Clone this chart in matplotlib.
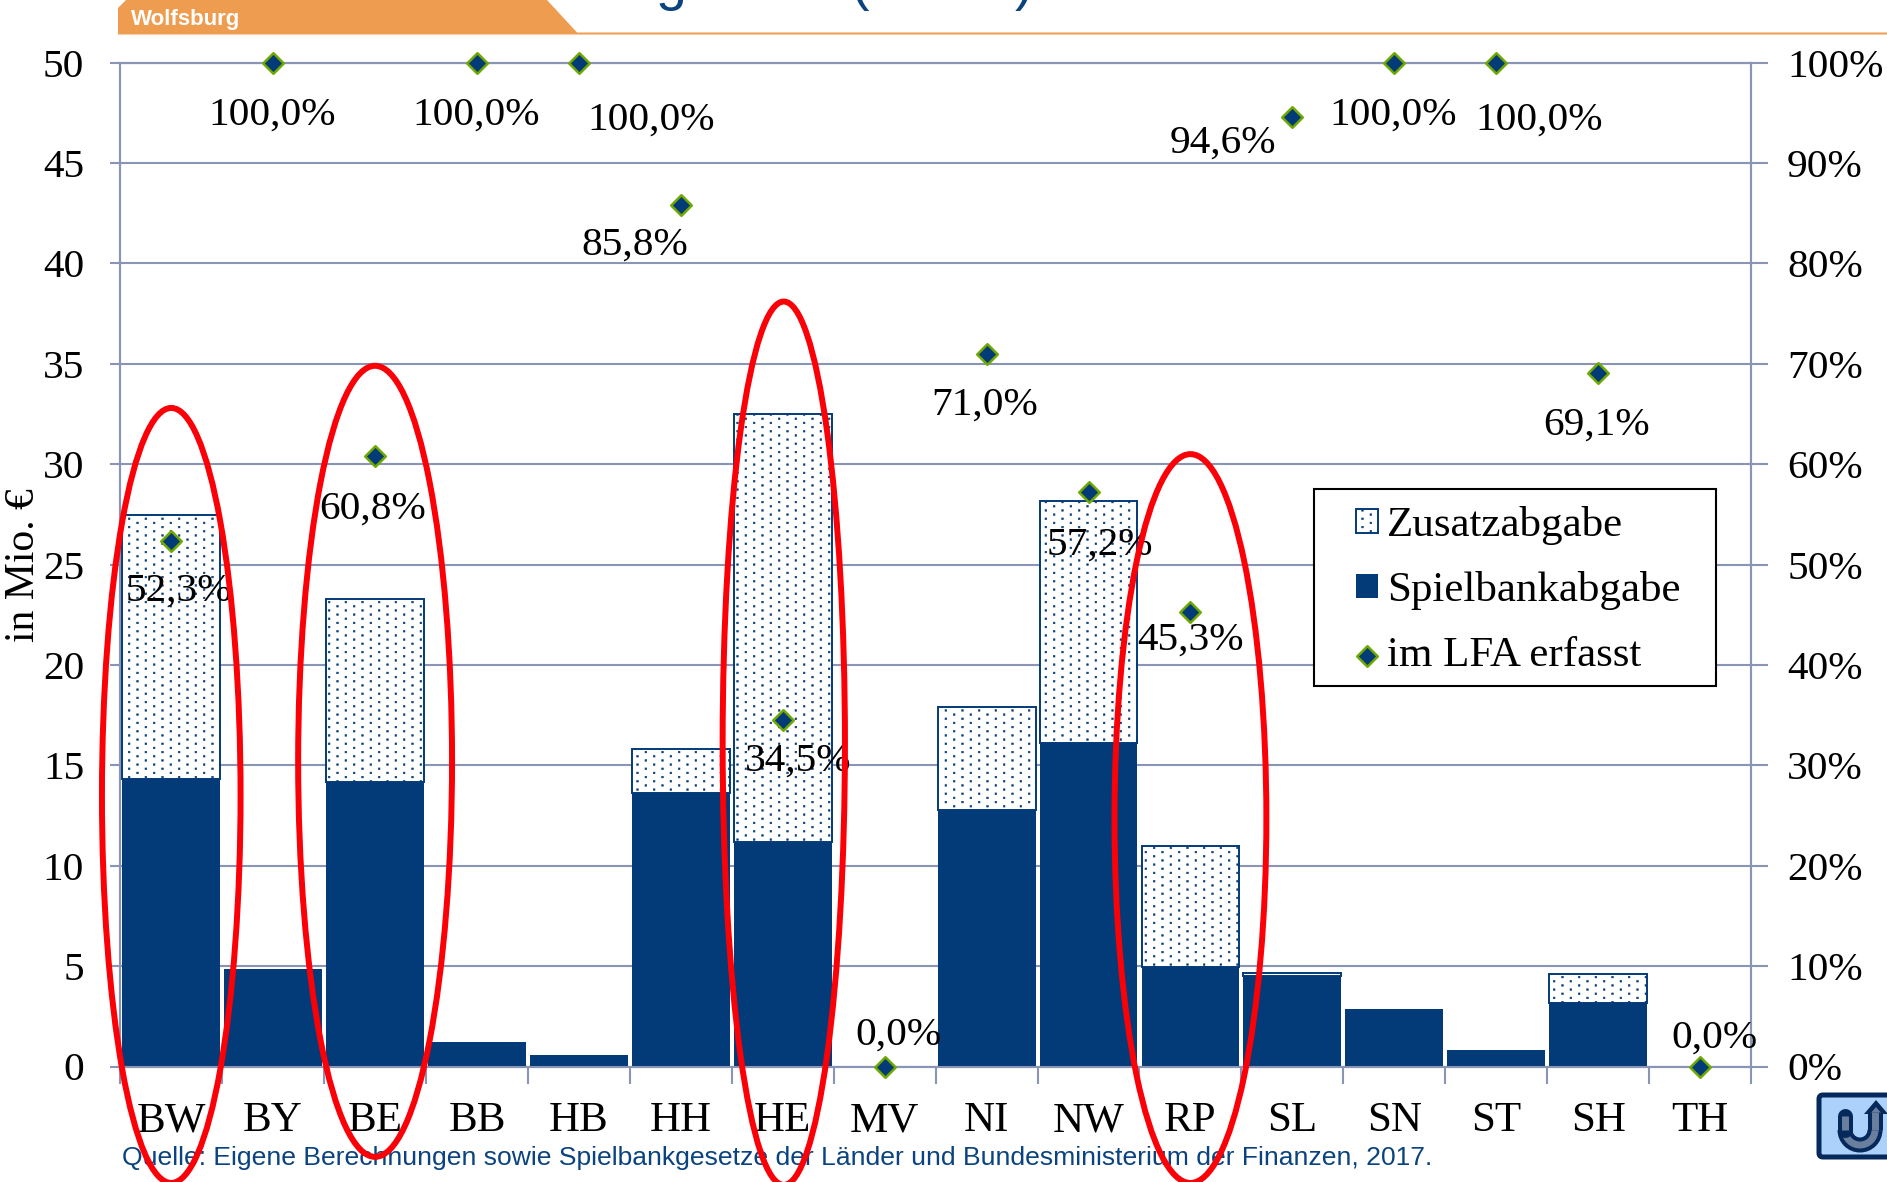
import numpy as np
import matplotlib
matplotlib.use('Agg')
import matplotlib.pyplot as plt
import matplotlib.hatch as mhatch
from matplotlib.path import Path
from matplotlib.patches import Arc, Ellipse, FancyBboxPatch, Polygon, Rectangle

# Data
laender = ['BW', 'BY', 'BE', 'BB', 'HB', 'HH', 'HE', 'MV', 'NI', 'NW', 'RP', 'SL', 'SN', 'ST', 'SH', 'TH']
spielbank = [14.33, 4.86, 14.15, 1.2, 0.55, 13.6, 11.2, 0, 12.77, 16.13, 4.98, 4.5, 2.88, 0.8, 3.18, 0]
zusatz = [13.13, 0, 9.11, 0, 0, 2.23, 21.3, 0, 5.16, 12.05, 5.99, 0.18, 0, 0, 1.44, 0]
lfa = [52.3, 100, 60.8, 100, 100, 85.8, 34.5, 0, 71.0, 57.2, 45.3, 94.6, 100, 100, 69.1, 0]
lfa_labels = ['52,3%', '100,0%', '60,8%', '100,0%', '100,0%', '85,8%', '34,5%', '0,0%',
              '71,0%', '57,2%', '45,3%', '94,6%', '100,0%', '100,0%', '69,1%', '0,0%']
# label offset from the marker, pixels
label_dx = [8, -1, -2, -1, 72, -46, 15, 14, -2, 11, 0, -69, -1, 43, -2, 14]
label_dy = [-50, -53, -53, -53, -58, -40, -41, 31, -51, -53, -28, -26, -53, -58, -52, 28]
# red marks: centre x, centre y, width, height
ringe = [(0, 13.5, 1.36, 38.6), (2, 15.2, 1.51, 39.4), (6.01, 16.1, 1.2, 44.0), (10, 12.35, 1.49, 36.3)]

navy = '#033a78'
grid_col = '#8a94b4'
W, H = 1887, 1182


class SparseDots(mhatch.HatchPatternBase):
    # small square dots: 24 rows per tile, every other row shifted by half a column
    filled = True
    rows = 24
    cols = 6
    half = 0.008

    def __init__(self, hatch, density):
        self.num_shapes = self.rows * self.cols if '.' in (hatch or '') else 0
        self.num_vertices = self.num_shapes * 5

    def set_vertices_and_codes(self, vertices, codes):
        h = self.half
        square = np.array([[-h, -h], [h, -h], [h, h], [-h, h], [-h, -h]])
        cursor = 0
        for r in range(self.rows):
            for c in range(self.cols):
                shift = 0.25 if r % 2 == 0 else 0.75
                centre = [(c + shift) / self.cols, (r + 0.5) / self.rows]
                vertices[cursor:cursor + 5] = square + centre
                codes[cursor:cursor + 5] = [Path.MOVETO, Path.LINETO, Path.LINETO, Path.LINETO, Path.CLOSEPOLY]
                cursor += 5


mhatch._hatch_types[mhatch._hatch_types.index(mhatch.SmallFilledCircles)] = SparseDots

plt.rcParams['font.family'] = ['Liberation Serif']
plt.rcParams['hatch.linewidth'] = 0.4
plt.rcParams['hatch.color'] = navy

fig = plt.figure(figsize=(W / 100, H / 100), dpi=100)
bg = fig.add_axes([0, 0, 1, 1], zorder=-1)
ax = fig.add_axes([120.3 / W, 1 - 1066.5 / H, (1751 - 120.3) / W, (1066.5 - 62.6) / H])
ax2 = ax.twinx()

x = list(range(len(laender)))
ax.bar(x, spielbank, width=0.96, color=navy, label='Spielbankabgabe', zorder=3)
ax.bar(x, zusatz, width=0.96, bottom=spielbank, facecolor='white', edgecolor=navy,
       linewidth=[1.4 if v > 0 else 0 for v in zusatz], hatch='.', label='Zusatzabgabe', zorder=3)

ax.set_xlim(-0.5, 15.5)
ax.set_ylim(0, 50)
ax.set_yticks(range(0, 51, 5))
ax.set_xticks([i - 0.5 for i in range(17)], minor=False)
ax.set_xticklabels([])
ax.set_xticks(x, minor=True)
ax.set_xticklabels(laender, minor=True)
ax.grid(True, axis='y', color=grid_col, linewidth=1.5, zorder=0)
ax.set_axisbelow(True)
ax.set_ylabel('in Mio. €', fontsize=30)
ax.yaxis.set_label_coords(-0.0475, 0.499)

ax.tick_params(axis='y', which='major', labelsize=29.7, length=7, width=1.5, color=grid_col, pad=19)
ax.tick_params(axis='x', which='major', length=12, width=1.5, color=grid_col)
ax.tick_params(axis='x', which='minor', labelsize=31, length=0, pad=46.5)
for t in ax.get_xminorticklabels():
    t.set_va('baseline')

ax2.set_ylim(0, 100)
ax2.set_yticks(range(0, 101, 10))
ax2.set_yticklabels([f'{v}%' for v in range(0, 101, 10)])
ax2.tick_params(axis='y', labelsize=29.7, length=12, width=1.5, color=grid_col, pad=14)
for a in (ax, ax2):
    for s in a.spines.values():
        s.set_color(grid_col)
        s.set_linewidth(1.5)

ax2.scatter(x, lfa, marker='D', s=110, c=navy, edgecolors='#6fa800', linewidths=1.8, zorder=5,
            clip_on=False, label='im LFA erfasst')
for i in x:
    ax2.annotate(lfa_labels[i], (x[i], lfa[i]), xytext=(label_dx[i], label_dy[i]),
                 textcoords='offset pixels', ha='center', va='center', fontsize=29.7,
                 color='black', zorder=6, annotation_clip=False)

for cx, cy, w, h in ringe:
    ax2.add_patch(Ellipse((cx, cy), w, h, transform=ax.transData, fill=False, edgecolor='#fb0007',
                          linewidth=4.3, zorder=7, clip_on=False))

# legend frame is wider than the legend's own padding allows
ax2.add_patch(Rectangle((1314 / W, 1 - 686 / H), 402 / W, 197 / H, transform=fig.transFigure, facecolor='white',
                        edgecolor='black', linewidth=1.5, zorder=5.5, clip_on=False))
h1, l1 = ax.get_legend_handles_labels()
h2, l2 = ax2.get_legend_handles_labels()
leg = ax2.legend([h1[1], h1[0], h2[0]], [l1[1], l1[0], l2[0]], loc='center left',
                 bbox_to_anchor=(1356 / W, 1 - 590.5 / H), bbox_transform=fig.transFigure,
                 fontsize=31, frameon=False, borderaxespad=0, borderpad=0, handlelength=0.5, handleheight=0.5,
                 labelspacing=0.6, handletextpad=0.22)
leg.set_zorder(6)

# page furniture, full figure in pixels
bg.set_xlim(0, W)
bg.set_ylim(H, 0)
bg.axis('off')
bg.add_patch(Polygon([(118, 34.5), (118, 8), (126, 0), (547, 0), (577, 32.5), (W, 32.5), (W, 34.5)], closed=True,
                     facecolor='#ee9d50', edgecolor='none'))
bg.text(131, 19, 'Wolfsburg', color='white', fontsize=16, fontweight='bold', family='Liberation Sans', va='center')
bg.text(122, 1158.5, 'Quelle: Eigene Berechnungen sowie Spielbankgesetze der Länder und Bundesministerium der Finanzen, 2017.',
        color='#0a437f', fontsize=19.07, family='Liberation Sans', va='center')
# only the lower ends of the slide title are left in the crop
for glyph, gx in zip(['g', '(', ')'], [656, 851, 1015]):
    bg.text(gx, -1, glyph, color='#0a437f', fontsize=40, family='Liberation Sans', ha='left', va='baseline')

bg.add_patch(FancyBboxPatch((1819, 1095), 90, 62, boxstyle='round,pad=0,rounding_size=4', facecolor='#acd1fb',
                            edgecolor='#05295a', linewidth=3.6))
for col, lw, tip in [('#05295a', 10.8, [(1876, 1100), (1864, 1114), (1888, 1114)]),
                     ('#6a7f9e', 5, [(1876, 1107), (1870, 1114), (1882, 1114)])]:
    bg.add_patch(Arc((1860, 1130), 30, 30, theta1=0, theta2=180, color=col, linewidth=lw))
    bg.plot([1845, 1845], [1130, 1116], color=col, linewidth=lw, solid_capstyle='round' if lw > 6 else 'butt')
    bg.plot([1875, 1875], [1130, 1112], color=col, linewidth=lw, solid_capstyle='butt')
    bg.add_patch(Polygon(tip, closed=True, facecolor=col, edgecolor='none'))
bg.set_xlim(0, W)
bg.set_ylim(H, 0)

fig.savefig('out.png', dpi=100)
